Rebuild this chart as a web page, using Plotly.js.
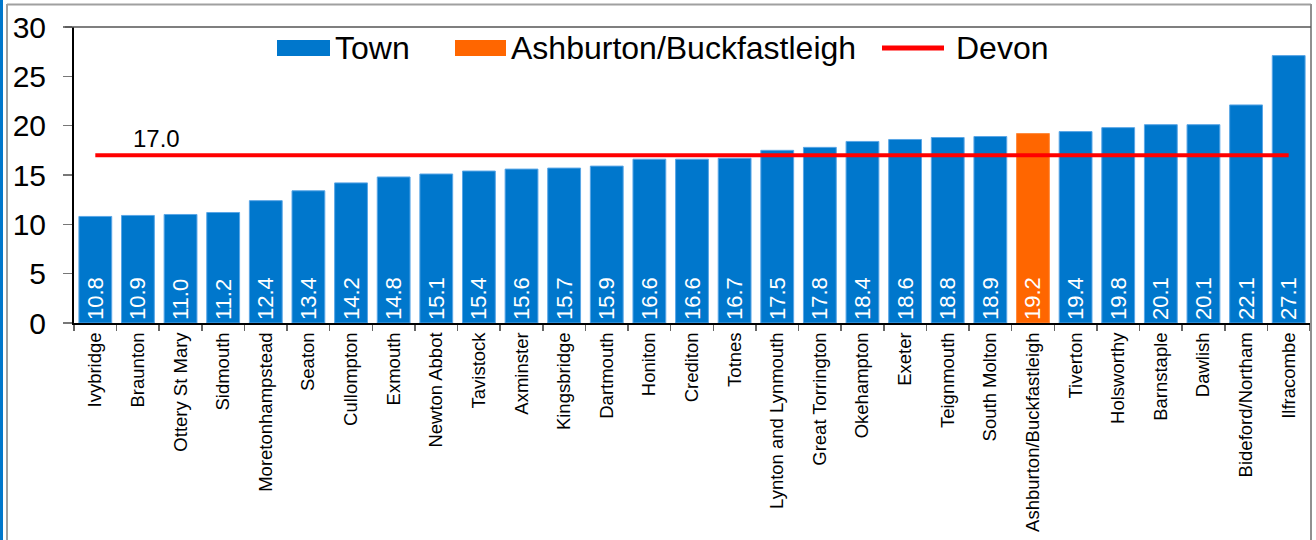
<!DOCTYPE html>
<html>
<head>
<meta charset="utf-8">
<script src="https://cdn.plot.ly/plotly-3.0.1.min.js"></script>
<style>html,body{margin:0;padding:0;background:#fff;}#chart{width:1316px;height:540px;}</style>
</head>
<body>
<div id="chart"></div>
<script>
const categories = ["Ivybridge","Braunton","Ottery St Mary","Sidmouth","Moretonhampstead","Seaton","Cullompton","Exmouth","Newton Abbot","Tavistock","Axminster","Kingsbridge","Dartmouth","Honiton","Crediton","Totnes","Lynton and Lynmouth","Great Torrington","Okehampton","Exeter","Teignmouth","South Molton","Ashburton/Buckfastleigh","Tiverton","Holsworthy","Barnstaple","Dawlish","Bideford/Northam","Ilfracombe"];
const values = [10.8,10.9,11.0,11.2,12.4,13.4,14.2,14.8,15.1,15.4,15.6,15.7,15.9,16.6,16.6,16.7,17.5,17.8,18.4,18.6,18.8,18.9,19.2,19.4,19.8,20.1,20.1,22.1,27.1];
const highlight = "Ashburton/Buckfastleigh";
const devonValue = 17.0;
const yTicks = [0,5,10,15,20,25,30];

const W = 1316, H = 540;
const M = {l:74, r:6, t:27, b:217};
const PW = W - M.l - M.r, PH = H - M.t - M.b;
const px = x => (x - M.l) / PW;
const py = y => 1 - (y - M.t) / PH;

const font = "Liberation Sans, Arial, sans-serif";
const blue = "#0077CC", orange = "#FF6600", red = "#FF0000";

const townY = values.map((v,i) => categories[i] === highlight ? null : v);
const hiX = categories.filter(c => c === highlight);
const hiY = values.filter((v,i) => categories[i] === highlight);

const labelFont = {family: font, size: 22, color: "#ffffff"};
const traces = [
  {type:"bar", name:"Town", x:categories, y:townY,
   marker:{color:blue, line:{color:"#5aa6e6", width:1}},
   texttemplate:"%{y:.1f}", textposition:"inside", insidetextanchor:"start", textangle:-90,
   insidetextfont:labelFont, constraintext:"none", hoverinfo:"x+y"},
  {type:"bar", name:"Ashburton/Buckfastleigh", x:hiX, y:hiY,
   marker:{color:orange, line:{color:"#ff8a3d", width:1}},
   texttemplate:"%{y:.1f}", textposition:"inside", insidetextanchor:"start", textangle:-90,
   insidetextfont:labelFont, constraintext:"none", hoverinfo:"x+y"},
  {type:"scatter", mode:"lines", name:"Devon", x:categories, y:categories.map(() => devonValue),
   line:{color:red, width:4}, hoverinfo:"y"}
];

const shapes = [
  {type:"rect", xref:"paper", yref:"paper", x0:px(0), x1:px(3), y0:py(545), y1:py(0), fillcolor:"#0077CC", line:{width:0}, layer:"below"},
  {type:"line", xref:"paper", yref:"paper", x0:px(7), x1:px(7), y0:py(4), y1:py(545), line:{color:"#a0a0a0", width:2}},
  {type:"line", xref:"paper", yref:"paper", x0:px(7), x1:px(1311), y0:py(4.5), y1:py(4.5), line:{color:"#a0a0a0", width:2}},
  {type:"line", xref:"paper", yref:"paper", x0:px(1311), x1:px(1311), y0:py(4), y1:py(545), line:{color:"#909090", width:2}},
  {type:"line", xref:"paper", yref:"paper", x0:px(65), x1:px(1311), y0:1, y1:1, line:{color:"#555555", width:1.5}},
  {type:"rect", xref:"paper", yref:"paper", x0:px(277), x1:px(330), y0:py(56), y1:py(40), fillcolor:blue, line:{width:0}},
  {type:"rect", xref:"paper", yref:"paper", x0:px(455), x1:px(506), y0:py(56), y1:py(40), fillcolor:orange, line:{width:0}},
  {type:"line", xref:"paper", yref:"paper", x0:px(882), x1:px(944), y0:py(48), y1:py(48), line:{color:red, width:5}}
];

const legendFont = {family: font, size: 32, color:"#000"};
const annotations = [
  {xref:"paper", yref:"paper", x:px(333), y:py(48), text:"Town", showarrow:false, xanchor:"left", yanchor:"middle", font:legendFont},
  {xref:"paper", yref:"paper", x:px(509), y:py(48), text:"Ashburton/Buckfastleigh", showarrow:false, xanchor:"left", yanchor:"middle", font:legendFont},
  {xref:"paper", yref:"paper", x:px(954), y:py(48), text:"Devon", showarrow:false, xanchor:"left", yanchor:"middle", font:legendFont},
  {xref:"paper", yref:"y", x:px(156), y:devonValue, yshift:17, text:devonValue.toFixed(1), showarrow:false, xanchor:"center", yanchor:"middle", font:{family:font, size:24, color:"#000"}}
];

const layout = {
  width:W, height:H,
  margin:{l:M.l, r:M.r, t:M.t, b:M.b, pad:0},
  paper_bgcolor:"#ffffff", plot_bgcolor:"#ffffff",
  font:{family:font, color:"#000"},
  barmode:"overlay", bargap:0.23,
  showlegend:false,
  xaxis:{type:"category", categoryorder:"array", categoryarray:categories,
    tickangle:-90, tickfont:{family:font, size:18.5, color:"#000"},
    ticks:"outside", tickson:"boundaries", ticklen:6, tickcolor:"#666", tickwidth:1.5,
    showline:true, linecolor:"#000", linewidth:2, showgrid:false, zeroline:false, fixedrange:true},
  yaxis:{range:[0,30], tickvals:yTicks, ticktext:yTicks.map(String),
    tickfont:{family:font, size:30, color:"#000"},
    ticks:"outside", ticklen:9, tickcolor:"#777", tickwidth:1.5, ticklabelstandoff:11,
    showline:true, linecolor:"#000", linewidth:2, showgrid:false, zeroline:false, fixedrange:true},
  shapes:shapes, annotations:annotations
};

Plotly.newPlot("chart", traces, layout, {displayModeBar:false, staticPlot:true});
</script>
</body>
</html>
